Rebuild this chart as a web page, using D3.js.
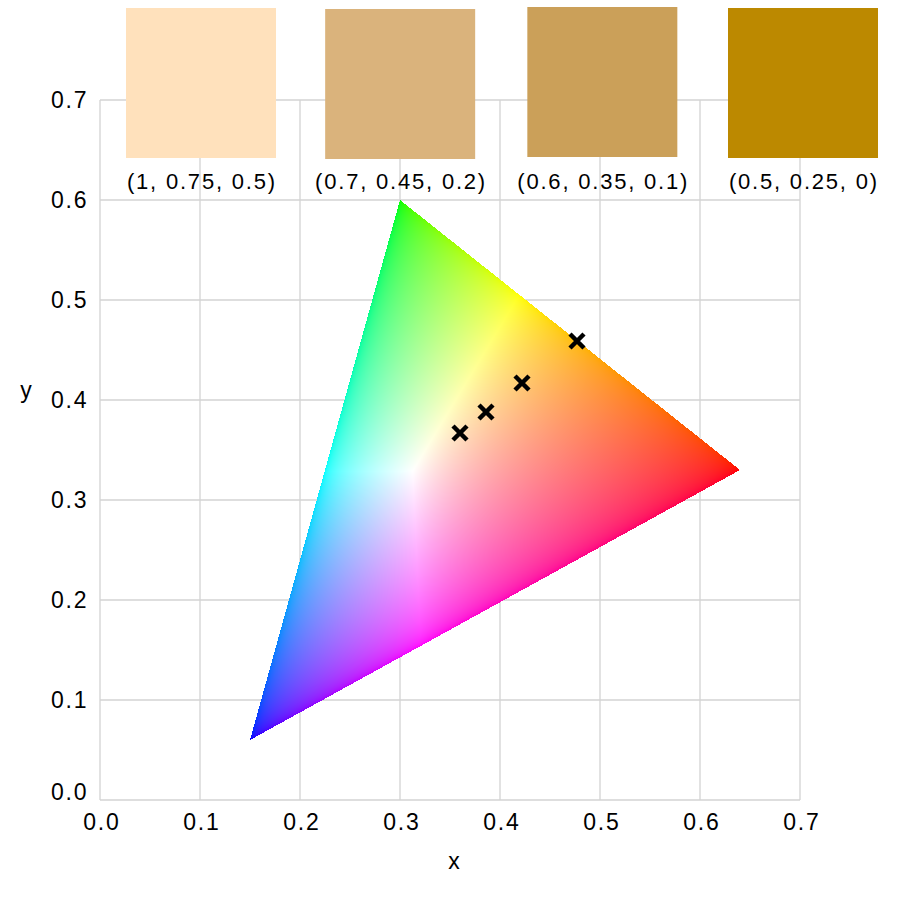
<!DOCTYPE html>
<html>
<head>
<meta charset="utf-8">
<script src="https://cdn.jsdelivr.net/npm/d3@7"></script>
<style>
  html, body { margin: 0; padding: 0; background: #fff; }
  svg { display: block; }
  text { font-family: "Liberation Sans", Arial, sans-serif; fill: #000; }
</style>
</head>
<body>
<svg id="chart" width="900" height="900"></svg>
<script>
// ---------- data ----------
const ticks = [0.0, 0.1, 0.2, 0.3, 0.4, 0.5, 0.6, 0.7];
const tickLabels = ["0.0", "0.1", "0.2", "0.3", "0.4", "0.5", "0.6", "0.7"];
// sRGB primaries (chromaticity xy)
const primaryNames = ["R", "G", "B"];
const primaryX = [0.64, 0.30, 0.15];
const primaryY = [0.33, 0.60, 0.06];
// swatches (linear RGB values)
const swatchLabels = ["(1, 0.75, 0.5)", "(0.7, 0.45, 0.2)", "(0.6, 0.35, 0.1)", "(0.5, 0.25, 0)"];
const swatchR = [1.0, 0.7, 0.6, 0.5];
const swatchG = [0.75, 0.45, 0.35, 0.25];
const swatchB = [0.5, 0.2, 0.1, 0.0];
// chromaticity markers
const markerX = [0.360, 0.386, 0.422, 0.477];
const markerY = [0.367, 0.388, 0.417, 0.459];

// ---------- layout ----------
const svg = d3.select("#chart");
const x = d3.scaleLinear().domain([0, 0.7]).range([100, 800]);
const y = d3.scaleLinear().domain([0, 0.7]).range([800, 100]);
const gridColor = "#d3d3d3";
const tickFont = 23, tickLS = 1.8;

// grid
const grid = svg.append("g");
grid.selectAll("line.v").data(ticks).join("line")
  .attr("x1", d => x(d)).attr("x2", d => x(d))
  .attr("y1", y(0)).attr("y2", y(0.7))
  .attr("stroke", gridColor).attr("stroke-width", 1.3);
grid.selectAll("line.h").data(ticks).join("line")
  .attr("y1", d => y(d)).attr("y2", d => y(d))
  .attr("x1", x(0)).attr("x2", x(0.7))
  .attr("stroke", gridColor).attr("stroke-width", 1.3);

// tick labels
svg.append("g").selectAll("text").data(ticks).join("text")
  .attr("x", d => x(d) + 1 + tickLS / 2)
  .attr("y", 830)
  .attr("text-anchor", "middle")
  .style("font-size", tickFont + "px")
  .style("letter-spacing", tickLS + "px")
  .text((d, i) => tickLabels[i]);
svg.append("g").selectAll("text").data(ticks).join("text")
  .attr("x", 86.5 + tickLS)
  .attr("y", d => Math.min(y(d) + 8, 799.5))
  .attr("text-anchor", "end")
  .style("font-size", tickFont + "px")
  .style("letter-spacing", tickLS + "px")
  .text((d, i) => tickLabels[i]);

// axis titles
svg.append("text").attr("x", 454).attr("y", 869).attr("text-anchor", "middle")
  .style("font-size", "23px").text("x");
svg.append("text").attr("x", 26).attr("y", 398).attr("text-anchor", "middle")
  .style("font-size", "23px").text("y");

// ---------- gamut triangle (rendered pixel by pixel) ----------
const M = [
  [3.2406, -1.5372, -0.4986],
  [-0.9689, 1.8758, 0.0415],
  [0.0557, -0.2040, 1.0570]
];
function gammaEnc(c) {
  c = Math.max(0, Math.min(1, c));
  return c <= 0.0031308 ? 12.92 * c : 1.055 * Math.pow(c, 1 / 2.4) - 0.055;
}
const W = 900, H = 900;
const canvas = document.createElement("canvas");
canvas.width = W; canvas.height = H;
const ctx = canvas.getContext("2d");
const img = ctx.createImageData(W, H);
const vx = primaryX, vy = primaryY;
const den = (vy[1] - vy[2]) * (vx[0] - vx[2]) + (vx[2] - vx[1]) * (vy[0] - vy[2]);
const pxs = vx.map(v => x(v)), pys = vy.map(v => y(v));
const i0 = Math.floor(d3.min(pxs)), i1 = Math.ceil(d3.max(pxs));
const j0 = Math.floor(d3.min(pys)), j1 = Math.ceil(d3.max(pys));
for (let j = j0; j <= j1; j++) {
  for (let i = i0; i <= i1; i++) {
    const cx = x.invert(i + 0.5), cy = y.invert(j + 0.5);
    const a = ((vy[1] - vy[2]) * (cx - vx[2]) + (vx[2] - vx[1]) * (cy - vy[2])) / den;
    const b = ((vy[2] - vy[0]) * (cx - vx[2]) + (vx[0] - vx[2]) * (cy - vy[2])) / den;
    const c = 1 - a - b;
    if (a < 0 || b < 0 || c < 0) continue;
    const X = cx / cy, Y = 1, Z = (1 - cx - cy) / cy;
    let rgb = M.map(r => Math.max(0, r[0] * X + r[1] * Y + r[2] * Z));
    const mx = Math.max(rgb[0], rgb[1], rgb[2]) || 1;
    rgb = rgb.map(v => Math.round(gammaEnc(v / mx) * 255));
    const k = (j * W + i) * 4;
    img.data[k] = rgb[0]; img.data[k + 1] = rgb[1]; img.data[k + 2] = rgb[2]; img.data[k + 3] = 255;
  }
}
ctx.putImageData(img, 0, 0);
svg.append("image")
  .attr("x", 0).attr("y", 0).attr("width", W).attr("height", H)
  .style("image-rendering", "pixelated")
  .attr("href", canvas.toDataURL("image/png"));

// ---------- markers ----------
const arm = 7;
svg.append("g").selectAll("path").data(markerX).join("path")
  .attr("transform", (d, i) => `translate(${x(d)},${y(markerY[i])})`)
  .attr("d", `M${-arm},${-arm}L${arm},${arm}M${-arm},${arm}L${arm},${-arm}`)
  .attr("stroke", "#000").attr("stroke-width", 4.5).attr("fill", "none");

// ---------- swatches ----------
const sx = d3.scalePoint().domain(swatchLabels).range([201, 803]);
const swSize = 150, swTop = [8, 9, 7, 8], swNudge = [0, -1.5, 0, 0];
const toCss = (r, g, b) => d3.rgb(gammaEnc(r) * 255, gammaEnc(g) * 255, gammaEnc(b) * 255).formatHex();
const sw = svg.append("g");
sw.selectAll("rect").data(swatchLabels).join("rect")
  .attr("x", (d, i) => sx(d) + swNudge[i] - swSize / 2)
  .attr("y", (d, i) => swTop[i])
  .attr("width", swSize).attr("height", swSize)
  .attr("fill", (d, i) => toCss(swatchR[i], swatchG[i], swatchB[i]));
const swLS = 1.8;
sw.selectAll("text").data(swatchLabels).join("text")
  .attr("x", (d, i) => sx(d) + swNudge[i] + swLS / 2)
  .attr("y", 188.5)
  .attr("text-anchor", "middle")
  .style("font-size", "22px")
  .style("letter-spacing", swLS + "px")
  .text(d => d);
</script>
</body>
</html>
